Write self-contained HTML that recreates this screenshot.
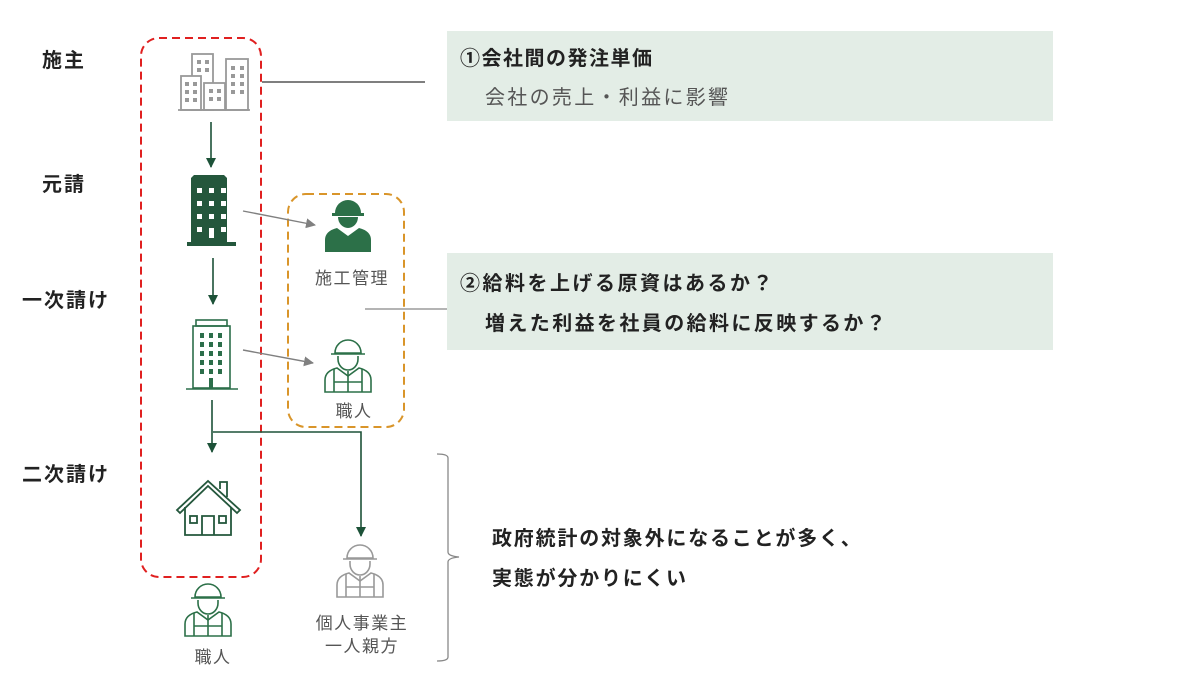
<!DOCTYPE html>
<html><head><meta charset="utf-8"><style>
html,body{margin:0;padding:0;background:#fff}
svg{display:block}
text{font-family:"Liberation Sans","Noto Sans CJK JP",sans-serif}
</style></head><body>
<svg width="1200" height="677" viewBox="0 0 1200 677" xmlns="http://www.w3.org/2000/svg">
<defs>
<marker id="ag" markerWidth="10" markerHeight="10" refX="9" refY="5" orient="auto" markerUnits="userSpaceOnUse"><path d="M0,0 L10,5 L0,10 z" fill="#1d5238"/></marker>
<marker id="agr" markerWidth="10" markerHeight="10" refX="9" refY="5" orient="auto" markerUnits="userSpaceOnUse"><path d="M0,0 L10,5 L0,10 z" fill="#808080"/></marker>
<g id="wf">
<path d="M-13,-12 a13,13 0 0 1 26,0 z"/><rect x="-16" y="-12" width="32" height="3"/>
<path d="M-10,-8 h20 a10,11 0 0 1 -20,0 z"/>
<path d="M-23,27 v-12 q0,-9 12,-12 l11,8 l11,-8 q12,3 12,12 v12 z"/>
</g>
<g id="wo" fill="none" stroke-width="1.6">
<path d="M-13,-12 a13,13 0 0 1 26,0 z"/><line x1="-17" y1="-11" x2="17" y2="-11"/>
<path d="M-10,-9 v3 a10,11 0 0 0 20,0 v-3"/>
<path d="M-23,27 v-12 q0,-9 12,-12 l11,8 l11,-8 q12,3 12,12 v12 z"/>
<path d="M-14,4 v23 M14,4 v23 M-14,17 h28 M0,6 v21"/>
</g>
</defs>

<rect x="447" y="31" width="606" height="90" fill="#e3ede6"/>
<rect x="447" y="253" width="606" height="97" fill="#e3ede6"/>
<text x="460" y="65" font-size="20" font-weight="bold" fill="#222" letter-spacing="1.5">①会社間の発注単価</text>
<text x="485" y="104" font-size="20" fill="#555" letter-spacing="2.3">会社の売上・利益に影響</text>
<text x="460" y="290" font-size="20" font-weight="bold" fill="#222" letter-spacing="2.5">②給料を上げる原資はあるか？</text>
<text x="485" y="330" font-size="20" font-weight="bold" fill="#222" letter-spacing="2.4">増えた利益を社員の給料に反映するか？</text>

<g font-size="20" font-weight="bold" fill="#222" letter-spacing="2">
<text x="42" y="67">施主</text>
<text x="42" y="191">元請</text>
<text x="22" y="307">一次請け</text>
<text x="22" y="481">二次請け</text>
</g>

<rect x="141" y="38" width="120" height="539" rx="18" fill="none" stroke="#e02020" stroke-width="2" stroke-dasharray="8,5"/>
<rect x="288" y="194" width="116" height="233" rx="18" fill="none" stroke="#d9952a" stroke-width="2" stroke-dasharray="8,5"/>

<line x1="262" y1="82" x2="425" y2="82" stroke="#333" stroke-width="1.2"/>
<line x1="365" y1="309" x2="447" y2="309" stroke="#888" stroke-width="1.2"/>

<g fill="none" stroke="#999" stroke-width="1.8">
<rect x="192" y="54" width="21" height="56"/><rect x="226" y="59" width="22" height="51"/>
<rect x="181" y="76" width="20" height="34" fill="#fff"/><rect x="204" y="83" width="21" height="27" fill="#fff"/>
<line x1="178" y1="110" x2="250" y2="110"/>
</g>
<g fill="#999">
<rect x="197" y="60" width="4" height="4"/><rect x="205" y="60" width="4" height="4"/><rect x="197" y="68" width="4" height="4"/><rect x="205" y="68" width="4" height="4"/>
<rect x="185" y="82" width="4" height="4"/><rect x="193" y="82" width="4" height="4"/><rect x="185" y="90" width="4" height="4"/><rect x="193" y="90" width="4" height="4"/><rect x="185" y="98" width="4" height="4"/><rect x="193" y="98" width="4" height="4"/>
<rect x="209" y="89" width="4" height="4"/><rect x="217" y="89" width="4" height="4"/><rect x="209" y="97" width="4" height="4"/><rect x="217" y="97" width="4" height="4"/>
<rect x="231" y="66" width="4" height="4"/><rect x="240" y="66" width="4" height="4"/><rect x="231" y="74" width="4" height="4"/><rect x="240" y="74" width="4" height="4"/><rect x="231" y="82" width="4" height="4"/><rect x="240" y="82" width="4" height="4"/><rect x="231" y="90" width="4" height="4"/><rect x="240" y="90" width="4" height="4"/>
</g>

<path d="M191,246 V178 l3,-3 h30 l3,3 V246 z" fill="#24573c"/>
<rect x="187" y="242" width="49" height="4" fill="#24573c"/>
<g fill="#fff">
<rect x="197" y="188" width="5" height="5"/><rect x="209" y="188" width="5" height="5"/><rect x="221" y="188" width="5" height="5"/>
<rect x="197" y="201" width="5" height="5"/><rect x="209" y="201" width="5" height="5"/><rect x="221" y="201" width="5" height="5"/>
<rect x="197" y="214" width="5" height="5"/><rect x="209" y="214" width="5" height="5"/><rect x="221" y="214" width="5" height="5"/>
<rect x="197" y="227" width="5" height="5"/><rect x="209" y="228" width="5" height="10"/><rect x="221" y="227" width="5" height="5"/>
</g>

<g fill="none" stroke="#2c6e4a" stroke-width="1.6">
<rect x="193" y="326" width="37" height="62"/><rect x="196" y="320" width="31" height="6"/>
<line x1="186" y1="389" x2="238" y2="389"/>
</g>
<g fill="#2c6e4a">
<rect x="200" y="333" width="4" height="5"/><rect x="209" y="333" width="4" height="5"/><rect x="218" y="333" width="4" height="5"/>
<rect x="200" y="342" width="4" height="5"/><rect x="209" y="342" width="4" height="5"/><rect x="218" y="342" width="4" height="5"/>
<rect x="200" y="351" width="4" height="5"/><rect x="209" y="351" width="4" height="5"/><rect x="218" y="351" width="4" height="5"/>
<rect x="200" y="360" width="4" height="5"/><rect x="209" y="360" width="4" height="5"/><rect x="218" y="360" width="4" height="5"/>
<rect x="200" y="369" width="4" height="5"/><rect x="209" y="369" width="4" height="5"/><rect x="218" y="369" width="4" height="5"/>
<rect x="209" y="378" width="4" height="10"/>
</g>

<g fill="none" stroke="#24573c" stroke-width="1.8">
<path d="M177,510 L208,481 L240,510 L237,513 L208,486 L180,513 z"/>
<path d="M220,489 V482 h7 V497"/>
<path d="M185,507 V535 h46 V507"/>
<path d="M202,535 V516 h12 V535"/>
<rect x="190" y="516" width="7" height="7"/><rect x="219" y="516" width="7" height="7"/>
</g>

<g stroke="#1d5238" stroke-width="1.6" fill="none">
<line x1="211" y1="122" x2="211" y2="167" marker-end="url(#ag)"/>
<line x1="213" y1="258" x2="213" y2="304" marker-end="url(#ag)"/>
<line x1="212" y1="400" x2="212" y2="452" marker-end="url(#ag)"/>
<polyline points="213,432 361,432 361,536" marker-end="url(#ag)"/>
</g>
<g stroke="#808080" stroke-width="1.4">
<line x1="243" y1="211" x2="315" y2="225" marker-end="url(#agr)"/>
<line x1="243" y1="350" x2="313" y2="363" marker-end="url(#agr)"/>
</g>

<use href="#wf" x="348" y="225" fill="#2c7048"/>
<use href="#wo" x="348" y="365" stroke="#2c7048"/>
<use href="#wo" x="360" y="570" stroke="#999"/>
<use href="#wo" x="208" y="609" stroke="#2c7048"/>

<g font-size="17" fill="#555" text-anchor="middle" letter-spacing="1.5">
<text x="352" y="284">施工管理</text>
<text x="354" y="417">職人</text>
<text x="362" y="629">個人事業主</text>
<text x="362" y="652">一人親方</text>
<text x="213" y="663">職人</text>
</g>

<path d="M437,454 q11,0 11,4 V552 q0,4 11,5 q-11,1 -11,5 V657 q0,4 -11,4" fill="none" stroke="#888" stroke-width="1.3"/>
<g font-size="20" font-weight="bold" fill="#222" letter-spacing="1.8">
<text x="492" y="545">政府統計の対象外になることが多く、</text>
<text x="492" y="585">実態が分かりにくい</text>
</g>
</svg>
</body></html>
